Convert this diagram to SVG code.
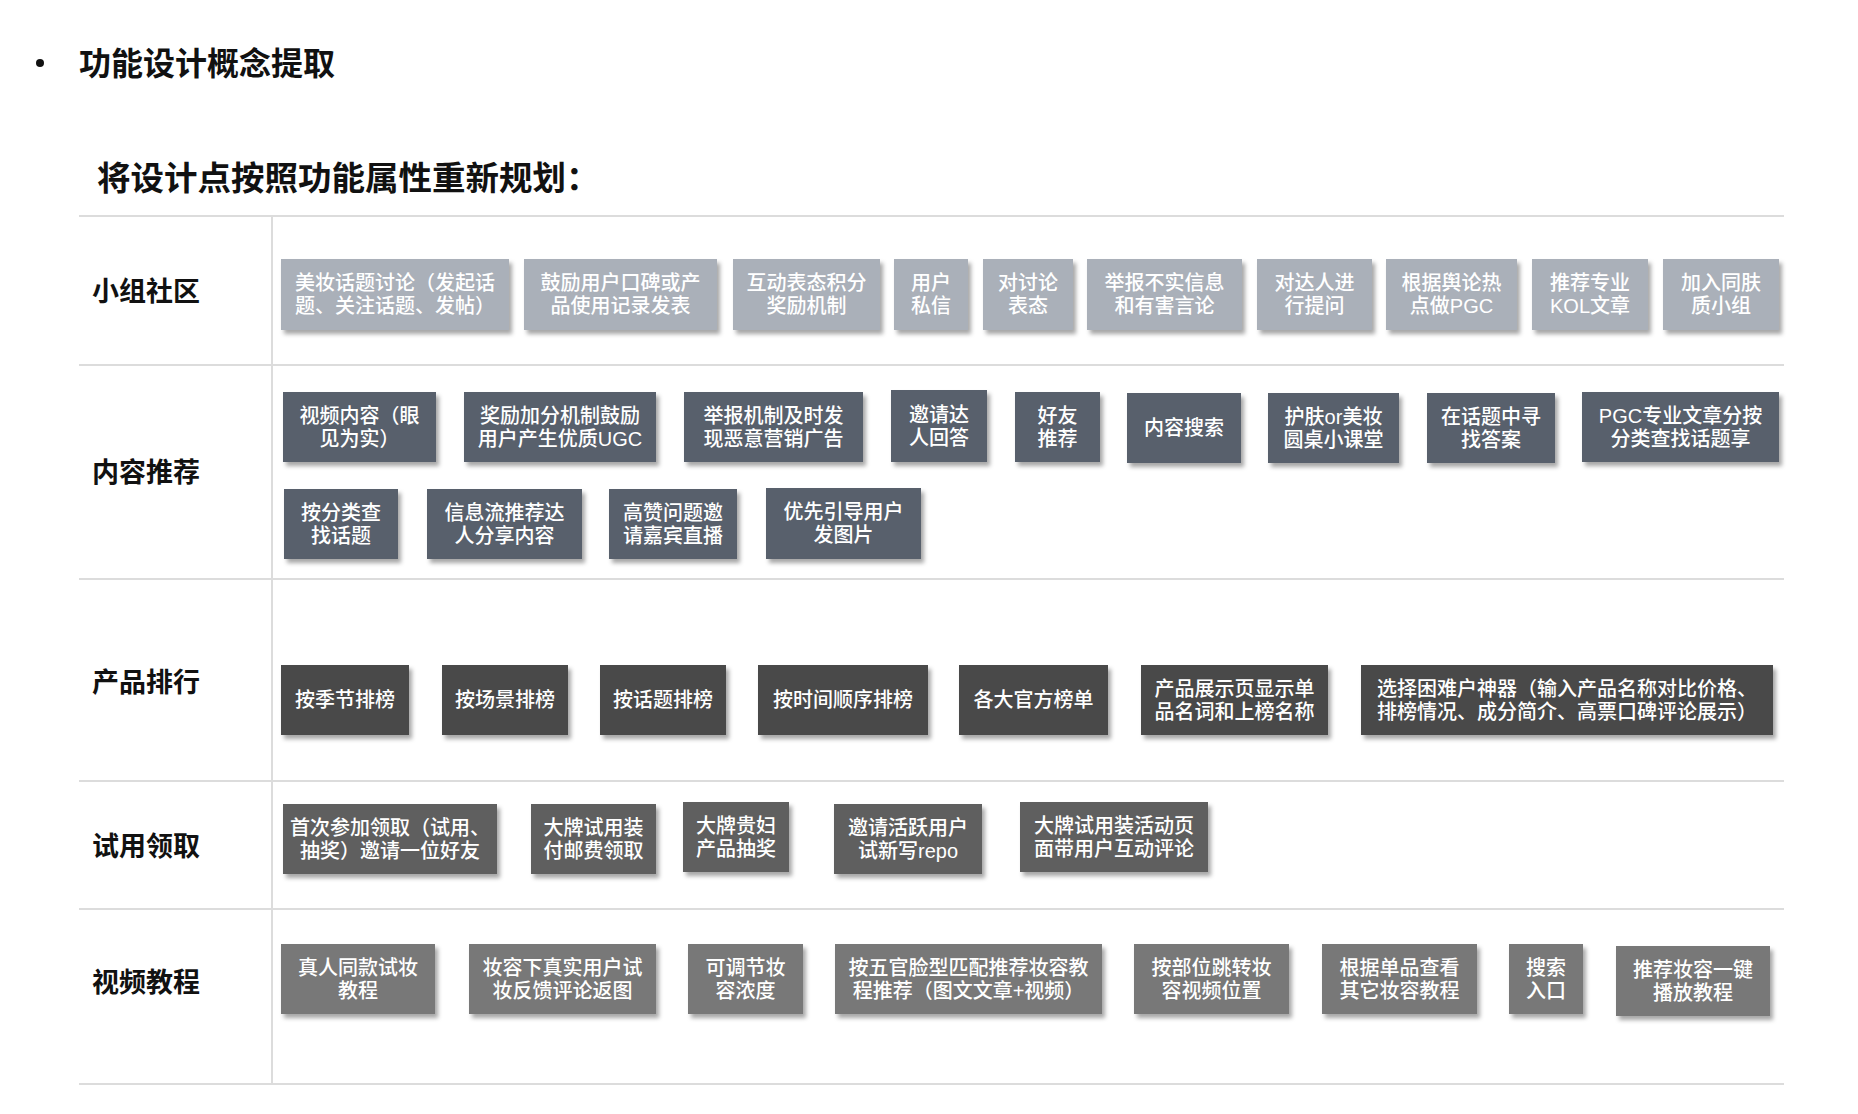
<svg xmlns="http://www.w3.org/2000/svg" width="1858" height="1114" viewBox="0 0 1858 1114">
<defs>
<filter id="sh" x="-10%" y="-20%" width="130%" height="160%">
<feDropShadow dx="3" dy="4" stdDeviation="2" flood-color="#000" flood-opacity="0.35"/>
</filter>
<style>
text{font-family:"Liberation Sans","Noto Sans CJK SC",sans-serif;}
.h{font-weight:bold;fill:#111;}
.lab{font-weight:bold;font-size:27px;fill:#111;dominant-baseline:central;}
.t{font-size:20px;font-weight:500;fill:#fff;text-anchor:middle;dominant-baseline:central;}
.r1{fill:#aab0b9;filter:url(#sh);}
.r2{fill:#58606c;filter:url(#sh);}
.r3{fill:#484848;filter:url(#sh);}
.r4{fill:#5f5f5f;filter:url(#sh);}
.r5{fill:#787878;filter:url(#sh);}
.ln{stroke:#dcdcdc;stroke-width:2;fill:none;}
</style>
</defs>
<rect width="1858" height="1114" fill="#fff"/>
<circle cx="40" cy="63" r="4" fill="#111"/>
<text class="h" x="79" y="64" font-size="32" dominant-baseline="central">功能设计概念提取</text>
<text class="h" x="97" y="178" font-size="33.5" dominant-baseline="central">将设计点按照功能属性重新规划：</text>
<g id="grid">
<line class="ln" x1="79" y1="216" x2="1784" y2="216"/>
<line class="ln" x1="79" y1="365" x2="1784" y2="365"/>
<line class="ln" x1="79" y1="579" x2="1784" y2="579"/>
<line class="ln" x1="79" y1="781" x2="1784" y2="781"/>
<line class="ln" x1="79" y1="909" x2="1784" y2="909"/>
<line class="ln" x1="79" y1="1084" x2="1784" y2="1084"/>
<line class="ln" x1="272" y1="216" x2="272" y2="1084"/>
</g>
<g id="labels">
<text class="lab" x="92" y="292">小组社区</text>
<text class="lab" x="92" y="473">内容推荐</text>
<text class="lab" x="92" y="683">产品排行</text>
<text class="lab" x="92" y="847">试用领取</text>
<text class="lab" x="92" y="983">视频教程</text>
</g>
<!-- Row 1 -->
<g id="n1-1"><rect class="r1" x="281" y="259" width="228" height="71"/><text class="t"><tspan x="395" y="283">美妆话题讨论（发起话</tspan><tspan x="395" y="306">题、关注话题、发帖）</tspan></text></g>
<g id="n1-2"><rect class="r1" x="524" y="259" width="193" height="71"/><text class="t"><tspan x="620.5" y="283">鼓励用户口碑或产</tspan><tspan x="620.5" y="306">品使用记录发表</tspan></text></g>
<g id="n1-3"><rect class="r1" x="733" y="259" width="147" height="71"/><text class="t"><tspan x="806.5" y="283">互动表态积分</tspan><tspan x="806.5" y="306">奖励机制</tspan></text></g>
<g id="n1-4"><rect class="r1" x="894" y="259" width="74" height="71"/><text class="t"><tspan x="931" y="283">用户</tspan><tspan x="931" y="306">私信</tspan></text></g>
<g id="n1-5"><rect class="r1" x="983" y="259" width="90" height="71"/><text class="t"><tspan x="1028" y="283">对讨论</tspan><tspan x="1028" y="306">表态</tspan></text></g>
<g id="n1-6"><rect class="r1" x="1087" y="259" width="155" height="71"/><text class="t"><tspan x="1164.5" y="283">举报不实信息</tspan><tspan x="1164.5" y="306">和有害言论</tspan></text></g>
<g id="n1-7"><rect class="r1" x="1257" y="259" width="115" height="71"/><text class="t"><tspan x="1314.5" y="283">对达人进</tspan><tspan x="1314.5" y="306">行提问</tspan></text></g>
<g id="n1-8"><rect class="r1" x="1386" y="259" width="131" height="71"/><text class="t"><tspan x="1451.5" y="283">根据舆论热</tspan><tspan x="1451.5" y="306">点做PGC</tspan></text></g>
<g id="n1-9"><rect class="r1" x="1532" y="259" width="116" height="71"/><text class="t"><tspan x="1590" y="283">推荐专业</tspan><tspan x="1590" y="306">KOL文章</tspan></text></g>
<g id="n1-10"><rect class="r1" x="1663" y="259" width="116" height="71"/><text class="t"><tspan x="1721" y="283">加入同肤</tspan><tspan x="1721" y="306">质小组</tspan></text></g>
<!-- Row 2 -->
<g id="n2-1"><rect class="r2" x="283" y="392" width="153" height="70"/><text class="t"><tspan x="359.5" y="415.5">视频内容（眼</tspan><tspan x="359.5" y="438.5">见为实）</tspan></text></g>
<g id="n2-2"><rect class="r2" x="464" y="392" width="192" height="70"/><text class="t"><tspan x="560" y="415.5">奖励加分机制鼓励</tspan><tspan x="560" y="438.5">用户产生优质UGC</tspan></text></g>
<g id="n2-3"><rect class="r2" x="684" y="392" width="179" height="70"/><text class="t"><tspan x="773.5" y="415.5">举报机制及时发</tspan><tspan x="773.5" y="438.5">现恶意营销广告</tspan></text></g>
<g id="n2-4"><rect class="r2" x="891" y="390" width="96" height="72"/><text class="t"><tspan x="939" y="414.5">邀请达</tspan><tspan x="939" y="437.5">人回答</tspan></text></g>
<g id="n2-5"><rect class="r2" x="1015" y="392" width="85" height="70"/><text class="t"><tspan x="1057.5" y="415.5">好友</tspan><tspan x="1057.5" y="438.5">推荐</tspan></text></g>
<g id="n2-6"><rect class="r2" x="1127" y="393" width="114" height="70"/><text class="t" x="1184" y="428">内容搜索</text></g>
<g id="n2-7"><rect class="r2" x="1268" y="393" width="131" height="70"/><text class="t"><tspan x="1333.5" y="416.5">护肤or美妆</tspan><tspan x="1333.5" y="439.5">圆桌小课堂</tspan></text></g>
<g id="n2-8"><rect class="r2" x="1427" y="393" width="128" height="70"/><text class="t"><tspan x="1491" y="416.5">在话题中寻</tspan><tspan x="1491" y="439.5">找答案</tspan></text></g>
<g id="n2-9"><rect class="r2" x="1582" y="392" width="197" height="70"/><text class="t"><tspan x="1680.5" y="415.5">PGC专业文章分按</tspan><tspan x="1680.5" y="438.5">分类查找话题享</tspan></text></g>
<g id="n2-10"><rect class="r2" x="284" y="489" width="114" height="70"/><text class="t"><tspan x="341" y="512.5">按分类查</tspan><tspan x="341" y="535.5">找话题</tspan></text></g>
<g id="n2-11"><rect class="r2" x="427" y="489" width="155" height="70"/><text class="t"><tspan x="504.5" y="512.5">信息流推荐达</tspan><tspan x="504.5" y="535.5">人分享内容</tspan></text></g>
<g id="n2-12"><rect class="r2" x="609" y="489" width="128" height="70"/><text class="t"><tspan x="673" y="512.5">高赞问题邀</tspan><tspan x="673" y="535.5">请嘉宾直播</tspan></text></g>
<g id="n2-13"><rect class="r2" x="766" y="488" width="155" height="71"/><text class="t"><tspan x="843.5" y="512">优先引导用户</tspan><tspan x="843.5" y="535">发图片</tspan></text></g>
<!-- Row 3 -->
<g id="n3-1"><rect class="r3" x="281" y="665" width="128" height="70"/><text class="t" x="345" y="700">按季节排榜</text></g>
<g id="n3-2"><rect class="r3" x="442" y="665" width="126" height="70"/><text class="t" x="505" y="700">按场景排榜</text></g>
<g id="n3-3"><rect class="r3" x="600" y="665" width="126" height="70"/><text class="t" x="663" y="700">按话题排榜</text></g>
<g id="n3-4"><rect class="r3" x="758" y="665" width="170" height="70"/><text class="t" x="843" y="700">按时间顺序排榜</text></g>
<g id="n3-5"><rect class="r3" x="959" y="665" width="149" height="70"/><text class="t" x="1033.5" y="700">各大官方榜单</text></g>
<g id="n3-6"><rect class="r3" x="1141" y="665" width="187" height="70"/><text class="t"><tspan x="1234.5" y="688.5">产品展示页显示单</tspan><tspan x="1234.5" y="711.5">品名词和上榜名称</tspan></text></g>
<g id="n3-7"><rect class="r3" x="1361" y="665" width="412" height="70"/><text class="t"><tspan x="1567" y="688.5">选择困难户神器（输入产品名称对比价格、</tspan><tspan x="1567" y="711.5">排榜情况、成分简介、高票口碑评论展示）</tspan></text></g>
<!-- Row 4 -->
<g id="n4-1"><rect class="r4" x="283" y="804" width="214" height="70"/><text class="t"><tspan x="390" y="827.5">首次参加领取（试用、</tspan><tspan x="390" y="850.5">抽奖）邀请一位好友</tspan></text></g>
<g id="n4-2"><rect class="r4" x="531" y="804" width="125" height="70"/><text class="t"><tspan x="593.5" y="827.5">大牌试用装</tspan><tspan x="593.5" y="850.5">付邮费领取</tspan></text></g>
<g id="n4-3"><rect class="r4" x="683" y="802" width="106" height="70"/><text class="t"><tspan x="736" y="825.5">大牌贵妇</tspan><tspan x="736" y="848.5">产品抽奖</tspan></text></g>
<g id="n4-4"><rect class="r4" x="834" y="804" width="148" height="70"/><text class="t"><tspan x="908" y="827.5">邀请活跃用户</tspan><tspan x="908" y="850.5">试新写repo</tspan></text></g>
<g id="n4-5"><rect class="r4" x="1020" y="802" width="188" height="70"/><text class="t"><tspan x="1114" y="825.5">大牌试用装活动页</tspan><tspan x="1114" y="848.5">面带用户互动评论</tspan></text></g>
<!-- Row 5 -->
<g id="n5-1"><rect class="r5" x="281" y="944" width="154" height="70"/><text class="t"><tspan x="358" y="967.5">真人同款试妆</tspan><tspan x="358" y="990.5">教程</tspan></text></g>
<g id="n5-2"><rect class="r5" x="469" y="944" width="187" height="70"/><text class="t"><tspan x="562.5" y="967.5">妆容下真实用户试</tspan><tspan x="562.5" y="990.5">妆反馈评论返图</tspan></text></g>
<g id="n5-3"><rect class="r5" x="688" y="944" width="115" height="70"/><text class="t"><tspan x="745.5" y="967.5">可调节妆</tspan><tspan x="745.5" y="990.5">容浓度</tspan></text></g>
<g id="n5-4"><rect class="r5" x="835" y="944" width="267" height="70"/><text class="t"><tspan x="968.5" y="967.5">按五官脸型匹配推荐妆容教</tspan><tspan x="968.5" y="990.5">程推荐（图文文章+视频）</tspan></text></g>
<g id="n5-5"><rect class="r5" x="1134" y="944" width="155" height="70"/><text class="t"><tspan x="1211.5" y="967.5">按部位跳转妆</tspan><tspan x="1211.5" y="990.5">容视频位置</tspan></text></g>
<g id="n5-6"><rect class="r5" x="1322" y="944" width="155" height="70"/><text class="t"><tspan x="1399.5" y="967.5">根据单品查看</tspan><tspan x="1399.5" y="990.5">其它妆容教程</tspan></text></g>
<g id="n5-7"><rect class="r5" x="1509" y="944" width="74" height="70"/><text class="t"><tspan x="1546" y="967.5">搜索</tspan><tspan x="1546" y="990.5">入口</tspan></text></g>
<g id="n5-8"><rect class="r5" x="1616" y="946" width="154" height="70"/><text class="t"><tspan x="1693" y="969.5">推荐妆容一键</tspan><tspan x="1693" y="992.5">播放教程</tspan></text></g>
</svg>
